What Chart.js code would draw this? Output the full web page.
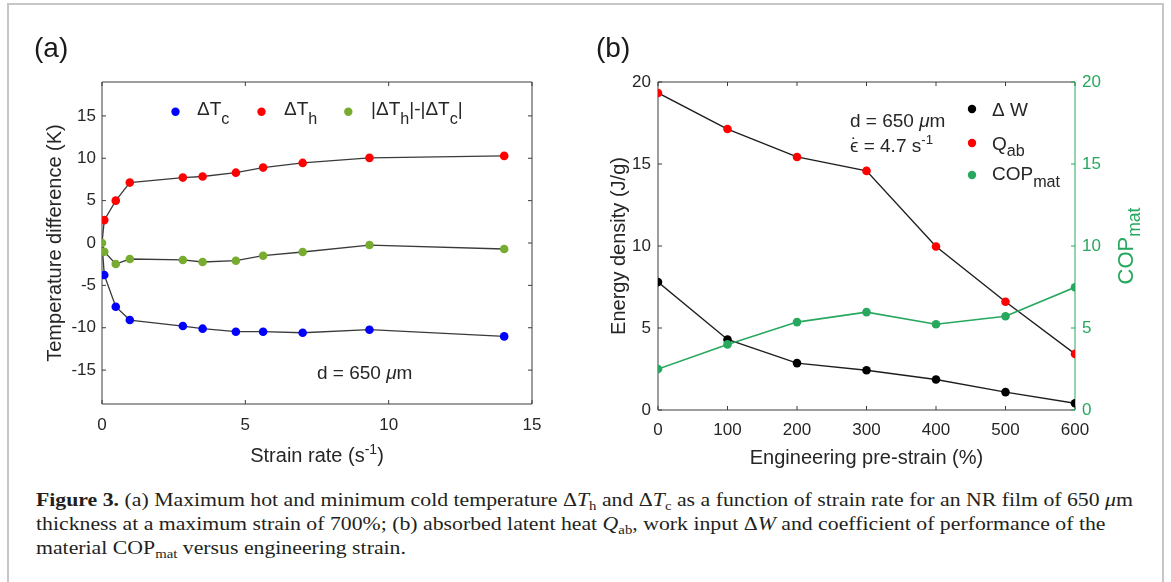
<!DOCTYPE html>
<html>
<head>
<meta charset="utf-8">
<script src="https://cdn.jsdelivr.net/npm/chart.js@4.4.1/dist/chart.umd.min.js"></script>
<style>
  body { margin: 0; background: #fff; }
  #page { position: relative; width: 1171px; height: 582px; overflow: hidden; background: #fff; }
  #frame { position: absolute; left: 7px; top: 3px; width: 1157px; height: 620px; border: 2px solid #c6c6c6; border-bottom: none; box-sizing: border-box; }
  .panel { position: absolute; top: 0; height: 470px; }
  #wrapA { left: 0; width: 580px; }
  #wrapB { left: 580px; width: 591px; }
  .cap { position: absolute; left: 36px; white-space: nowrap; font-family: "Liberation Serif", "Times New Roman", serif;
         font-size: 18.5px; line-height: 20px; color: #231f20; transform-origin: 0 0; }
  .cap sub { font-size: 68%; vertical-align: -0.28em; line-height: 0; }
</style>
</head>
<body>
<div id="page">
  <div id="frame"></div>
  <div class="panel" id="wrapA"><canvas id="chartA" width="580" height="470"></canvas></div>
  <div class="panel" id="wrapB"><canvas id="chartB" width="591" height="470"></canvas></div>
  <div class="cap" style="top:490px"><b>Figure 3.</b> (a) Maximum hot and minimum cold temperature Δ<i>T</i><sub>h</sub> and Δ<i>T</i><sub>c</sub> as a function of strain rate for an NR film of 650 <i>μ</i>m</div>
  <div class="cap" style="top:514px">thickness at a maximum strain of 700%; (b) absorbed latent heat <i>Q</i><sub>ab</sub>, work input Δ<i>W</i> and coefficient of performance of the</div>
  <div class="cap" style="top:538px">material COP<sub>mat</sub> versus engineering strain.</div>
</div>
<script>
// panel (a): temperature change vs strain rate
const strainRate = [0, 0.08, 0.48, 0.97, 2.82, 3.51, 4.67, 5.62, 7.0, 9.33, 14.03];
const dTh = [0, 2.7, 5.0, 7.13, 7.72, 7.85, 8.3, 8.9, 9.45, 10.05, 10.28];
const dTc = [0, -3.78, -7.52, -9.09, -9.8, -10.11, -10.47, -10.47, -10.59, -10.23, -11.02];
const dTdiff = [0, -1.03, -2.48, -1.89, -2.0, -2.24, -2.09, -1.5, -1.06, -0.24, -0.71];
const rateTicks = [0, 5, 10, 15];
const tempTicks = [-15, -10, -5, 0, 5, 10, 15];

// panel (b): energy density and COP vs pre-strain
const preStrain = [0, 100, 200, 300, 400, 500, 600];
const workIn = [7.8, 4.3, 2.86, 2.42, 1.86, 1.09, 0.41];
const qAb = [19.33, 17.13, 15.43, 14.58, 9.97, 6.6, 3.42];
const copMat = [2.5, 4.0, 5.36, 5.97, 5.23, 5.72, 7.48];
const strainTicks = [0, 100, 200, 300, 400, 500, 600];
const energyTicks = [0, 5, 10, 15, 20];
const copTicks = [0, 5, 10, 15, 20];

const FONT = '"Liberation Sans", Arial, Helvetica, sans-serif';
const GREEN_B = '#27a85e';
Chart.defaults.font.family = FONT;
Chart.defaults.color = '#262626';

function pts(xs, ys) {
  return xs.map((x, i) => ({ x: x, y: ys[i] }));
}
function fixedTicks(list) {
  return function (scale) { scale.ticks = list.map(v => ({ value: v })); };
}
function fixWidth(w) {
  return function (scale) { scale.width = w; scale.paddingTop = 0; scale.paddingBottom = 0; };
}
function fixHeight(h) {
  return function (scale) { scale.height = h; scale.paddingLeft = 0; scale.paddingRight = 0; };
}

// text with sub/superscripts
function segFont(size, it) {
  return (it ? 'italic ' : '') + size + 'px ' + FONT;
}
function drawRich(ctx, segs, x, y, size, align, color) {
  const items = [];
  let w = 0;
  segs.forEach(s => {
    if (typeof s === 'string') s = { t: s };
    let sz = size, dy = 0;
    if (s.sub !== undefined) { sz = size * (s.r || 0.85); dy = size * s.sub; }
    if (s.sup !== undefined) { sz = size * (s.r || 0.7); dy = -size * s.sup; }
    ctx.font = segFont(sz, s.it);
    const sw = ctx.measureText(s.t).width;
    items.push({ t: s.t, sz: sz, dy: dy, it: s.it, x: w, dot: s.dot });
    w += sw;
  });
  const x0 = align === 'center' ? x - w / 2 : x;
  ctx.fillStyle = color || '#262626';
  ctx.textBaseline = 'alphabetic';
  ctx.textAlign = 'left';
  items.forEach(it => {
    ctx.font = segFont(it.sz, it.it);
    ctx.fillText(it.t, x0 + it.x, y + it.dy);
    if (it.dot) {
      // dot over the first character (strain-rate epsilon)
      const cw = ctx.measureText(it.t.charAt(0)).width;
      ctx.textAlign = 'center';
      ctx.fillText('\u02D9', x0 + it.x + cw / 2, y + it.dy - 1.5);
      ctx.textAlign = 'left';
    }
  });
}

const deco = {
  id: 'deco',
  beforeDatasetsDraw(chart, args, o) {
    const ctx = chart.ctx, a = chart.chartArea, t = 4;
    ctx.save();
    ctx.lineWidth = 1;
    ctx.strokeStyle = '#3c3c3c';
    ctx.beginPath();
    ctx.moveTo(a.left, a.top); ctx.lineTo(a.left, a.bottom); ctx.lineTo(a.right, a.bottom);
    ctx.moveTo(a.left, a.top); ctx.lineTo(a.right, a.top);
    if (!o.rightColor) { ctx.moveTo(a.right, a.top); ctx.lineTo(a.right, a.bottom); }
    const xs = chart.scales.x, ys = chart.scales.y;
    xs.ticks.forEach(tk => {
      const p = xs.getPixelForValue(tk.value);
      ctx.moveTo(p, a.bottom); ctx.lineTo(p, a.bottom - t);
      ctx.moveTo(p, a.top); ctx.lineTo(p, a.top + t);
    });
    ys.ticks.forEach(tk => {
      const p = ys.getPixelForValue(tk.value);
      ctx.moveTo(a.left, p); ctx.lineTo(a.left + t, p);
      if (!o.rightColor) { ctx.moveTo(a.right, p); ctx.lineTo(a.right - t, p); }
    });
    ctx.stroke();
    if (o.rightColor) {
      const y2 = chart.scales.y2;
      ctx.strokeStyle = o.rightColor;
      ctx.beginPath();
      ctx.moveTo(a.right, a.top); ctx.lineTo(a.right, a.bottom);
      y2.ticks.forEach(tk => {
        const p = y2.getPixelForValue(tk.value);
        ctx.moveTo(a.right, p); ctx.lineTo(a.right - t, p);
      });
      ctx.stroke();
    }
    ctx.restore();
  },
  afterDraw(chart, args, o) {
    const ctx = chart.ctx, a = chart.chartArea;
    ctx.save();
    // panel letter
    ctx.font = '28px ' + FONT;
    ctx.fillStyle = '#1a1a1a';
    ctx.textAlign = 'left';
    ctx.fillText(o.label, o.labelX, o.labelY);
    // axis titles
    drawRich(ctx, o.xTitle, (a.left + a.right) / 2, a.bottom + o.xTitleDy, 20, 'center');
    ctx.save();
    ctx.translate(a.left - o.yTitleDx, (a.top + a.bottom) / 2);
    ctx.rotate(-Math.PI / 2);
    drawRich(ctx, o.yTitle, 0, 7, 20, 'center');
    ctx.restore();
    if (o.y2Title) {
      ctx.save();
      ctx.translate(a.right + o.y2TitleDx, (a.top + a.bottom) / 2);
      ctx.rotate(-Math.PI / 2);
      drawRich(ctx, o.y2Title, 0, 7.5, 22, 'center', o.rightColor);
      ctx.restore();
    }
    // legend
    o.legend.forEach(it => {
      ctx.beginPath();
      ctx.fillStyle = it.color;
      ctx.arc(it.mx, it.my, 4.2, 0, Math.PI * 2);
      ctx.fill();
      drawRich(ctx, it.segs, it.tx, it.ty, 19, 'left');
    });
    // notes
    o.notes.forEach(n => drawRich(ctx, n.segs, n.x, n.y, 19, 'left'));
    ctx.restore();
  }
};

function axisCommon(min, max, list) {
  return {
    type: 'linear', min: min, max: max,
    afterBuildTicks: fixedTicks(list),
    grid: { display: false, drawTicks: false },
    border: { display: false },
    ticks: { font: { size: 17 }, color: '#262626', maxRotation: 0, autoSkip: false, callback: v => String(v) }
  };
}

const hideFirst = ctx => ctx.dataIndex === 0 ? 0 : 4.3;

const xA = axisCommon(0, 15, rateTicks);
xA.afterFit = fixHeight(66); xA.ticks.padding = 11;
const yA = axisCommon(-19, 19, tempTicks);
yA.afterFit = fixWidth(102); yA.ticks.padding = 6;

new Chart(document.getElementById('chartA'), {
  type: 'scatter',
  data: {
    datasets: [
      { data: pts(strainRate, dTdiff), showLine: true, borderColor: '#3a3a3a', borderWidth: 1.3,
        pointBackgroundColor: '#77ac30', pointBorderWidth: 0, pointRadius: 4.3, order: 0 },
      { data: pts(strainRate, dTh), showLine: true, borderColor: '#3a3a3a', borderWidth: 1.3,
        pointBackgroundColor: '#ff0000', pointBorderWidth: 0, pointRadius: hideFirst, order: 1 },
      { data: pts(strainRate, dTc), showLine: true, borderColor: '#3a3a3a', borderWidth: 1.3,
        pointBackgroundColor: '#0000ff', pointBorderWidth: 0, pointRadius: hideFirst, order: 2 }
    ]
  },
  options: {
    responsive: false, animation: false, events: [],
    layout: { padding: { top: 82, right: 48, left: 0, bottom: 0 } },
    scales: { x: xA, y: yA },
    plugins: {
      legend: { display: false }, tooltip: { enabled: false },
      deco: {
        label: '(a)', labelX: 34, labelY: 57,
        xTitle: ['Strain rate (s', { t: '-1', sup: 0.42 }, ')'], xTitleDy: 58,
        yTitle: ['Temperature difference (K)'], yTitleDx: 48,
        legend: [
          { color: '#0000ff', mx: 175.5, my: 111.7, tx: 197, ty: 115, segs: ['\u0394T', { t: 'c', sub: 0.45 }] },
          { color: '#ff0000', mx: 261.5, my: 111.7, tx: 284, ty: 115, segs: ['\u0394T', { t: 'h', sub: 0.45 }] },
          { color: '#77ac30', mx: 348.3, my: 111.7, tx: 371, ty: 115,
            segs: ['|\u0394T', { t: 'h', sub: 0.45 }, '|-|\u0394T', { t: 'c', sub: 0.45 }, '|'] }
        ],
        notes: [
          { x: 317, y: 379, segs: ['d = 650 ', { t: '\u03BC', it: true }, 'm'] }
        ]
      }
    }
  },
  plugins: [deco]
});

const xB = axisCommon(0, 600, strainTicks);
xB.afterFit = fixHeight(60); xB.ticks.padding = 10;
const yB = axisCommon(0, 20, energyTicks);
yB.afterFit = fixWidth(78); yB.ticks.padding = 7;
const y2B = axisCommon(0, 20, copTicks);
y2B.position = 'right';
y2B.afterFit = fixWidth(96); y2B.ticks.padding = 7; y2B.ticks.color = GREEN_B;

new Chart(document.getElementById('chartB'), {
  type: 'scatter',
  data: {
    datasets: [
      { data: pts(preStrain, workIn), showLine: true, borderColor: '#1e1e1e', borderWidth: 1.4,
        pointBackgroundColor: '#000000', pointBorderWidth: 0, pointRadius: 4.3, order: 2 },
      { data: pts(preStrain, qAb), showLine: true, borderColor: '#1e1e1e', borderWidth: 1.4,
        pointBackgroundColor: '#ff0000', pointBorderWidth: 0, pointRadius: 4.3, order: 1 },
      { data: pts(preStrain, copMat), yAxisID: 'y2', showLine: true, borderColor: GREEN_B, borderWidth: 1.6,
        pointBackgroundColor: GREEN_B, pointBorderWidth: 0, pointRadius: 4.3, order: 0 }
    ]
  },
  options: {
    responsive: false, animation: false, events: [],
    layout: { padding: { top: 82, right: 0, left: 0, bottom: 0 } },
    scales: { x: xB, y: yB, y2: y2B },
    plugins: {
      legend: { display: false }, tooltip: { enabled: false },
      deco: {
        label: '(b)', labelX: 16, labelY: 57, rightColor: GREEN_B,
        xTitle: ['Engineering pre-strain (%)'], xTitleDy: 54,
        yTitle: ['Energy density (J/g)'], yTitleDx: 40,
        y2Title: ['COP', { t: 'mat', sub: 0.35, r: 0.8 }], y2TitleDx: 50,
        legend: [
          { color: '#000000', mx: 392, my: 109, tx: 412, ty: 116, segs: ['\u0394 W'] },
          { color: '#ff0000', mx: 392, my: 143, tx: 412, ty: 150, segs: ['Q', { t: 'ab', sub: 0.3 }] },
          { color: GREEN_B, mx: 392, my: 175, tx: 412, ty: 180, segs: ['COP', { t: 'mat', sub: 0.38 }] }
        ],
        notes: [
          { x: 270, y: 127, segs: ['d = 650 ', { t: '\u03BC', it: true }, 'm'] },
          { x: 270, y: 152, segs: [{ t: '\u03F5 = 4.7 s', dot: true }, { t: '-1', sup: 0.42 }] }
        ]
      }
    }
  },
  plugins: [deco]
});

// stretch caption lines to the printed width
const capLines = document.querySelectorAll('.cap');
const k = 1097 / capLines[0].offsetWidth;
capLines.forEach(el => { el.style.transform = 'scaleX(' + k + ')'; });
</script>
</body>
</html>
